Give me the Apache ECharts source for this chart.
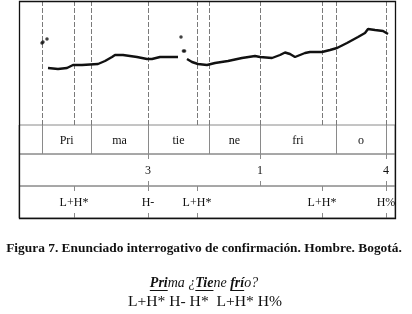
<!DOCTYPE html>
<html>
<head>
<meta charset="utf-8">
<script src="https://cdn.jsdelivr.net/npm/echarts@6/dist/echarts.min.js"></script>
<style>
html,body{margin:0;padding:0;background:#fff;}
#chart{width:412px;height:314px;}
</style>
</head>
<body>
<div id="chart"></div>
<script>
// F0 track: [time ms, Hz]
var pitchTrack1 = [[145,117],[195,116],[240,117],[270,120],[315,120],[395,121],[430,124],[465,128],[480,130],[520,130],[590,128],[640,126],[665,126],[705,128],[795,128]];
var pitchTrack2 = [[840,126],[865,123],[895,121],[940,120],[980,122],[1045,124],[1115,127],[1180,129],[1205,128],[1265,127],[1305,130],[1330,132.5],[1355,131],[1380,128],[1405,130],[1430,132],[1455,133],[1515,133],[1555,135],[1590,137],[1640,142],[1695,148],[1730,152],[1745,156],[1780,155],[1820,154],[1845,151]];
var pitchStray = [[115,142],[120,143],[140,146],[810,148],[822,134],[828,134]];

// tiers
var syllables = ['Pri','ma','tie','ne','fri','o'];
var syllableBounds = [117,360,645,950,1205,1585,1835];
var breakIndices = ['3','1','4'];
var breakTimes = [645,1205,1835];
var tones = ['L+H*','H-','L+H*','L+H*','H%'];
var toneTimes = [275,645,890,1515,1835];

var tMax = 1880;
var FONT = '"Liberation Serif", "DejaVu Serif", serif';

var dashTimes = syllableBounds.concat(toneTimes).filter(function(v,i,a){return a.indexOf(v)===i;}).sort(function(a,b){return a-b;});

var myChart = echarts.init(document.getElementById('chart'));

function txt(x, y, s, font) {
  return {type:'text', style:{text:s, x:x, y:y, font:font, fill:'#111',
    align:'center', verticalAlign:'middle', textAlign:'center', textVerticalAlign:'middle'}};
}

// vertical lines over full pitch panel
function renderDash(params, api) {
  var t = api.value(0);
  var p1 = api.coord([t, 184]), p2 = api.coord([t, 60]);
  return {type:'line', shape:{x1:Math.round(p1[0])+0.5, y1:p1[1], x2:Math.round(p2[0])+0.5, y2:p2[1]},
    style:{stroke:'#7a7a7a', lineWidth:1, lineDash:[5,2]}};
}
// full solid line inside a tier
function renderSolid(params, api) {
  var t = api.value(0);
  var p1 = api.coord([t, 1]), p2 = api.coord([t, 0]);
  return {type:'line', shape:{x1:Math.round(p1[0])+0.5, y1:p1[1], x2:Math.round(p2[0])+0.5, y2:p2[1]},
    style:{stroke:'#8a8a8a', lineWidth:1}};
}
// tier label, text looked up by index
function labelRenderer(texts) {
  return function(params, api) {
    var p = api.coord([api.value(0), 0.5]);
    return txt(p[0], p[1]+1, texts[params.dataIndex], '12px ' + FONT);
  };
}
// short ticks top and bottom
function renderTick(params, api) {
  var t = api.value(0);
  var top = api.coord([t, 1]), bot = api.coord([t, 0]);
  var x = Math.round(top[0]) + 0.5;
  return {type:'group', children:[
    {type:'line', shape:{x1:x, y1:top[1], x2:x, y2:top[1]+5}, style:{stroke:'#8a8a8a', lineWidth:1}},
    {type:'line', shape:{x1:x, y1:bot[1]-5, x2:x, y2:bot[1]}, style:{stroke:'#8a8a8a', lineWidth:1}}
  ]};
}

var sylMid = [];
for (var i = 0; i < syllables.length; i++) {
  sylMid.push([(syllableBounds[i] + syllableBounds[i+1]) / 2]);
}

// caption pieces
var ctx = document.createElement('canvas').getContext('2d');
var graphics = [];
graphics.push({type:'rect', shape:{x:19.5, y:1.5, width:376, height:217}, style:{fill:'none', stroke:'#111', lineWidth:1.3}, z:100});
graphics.push(txt(204, 249, 'Figura 7. Enunciado interrogativo de confirmación. Hombre. Bogotá.', 'bold 13.4px ' + FONT));
var parts = [['Pri',1],['ma ¿',0],['Tie',1],['ne ',0],['frí',1],['o?',0]];
var widths = [], total = 0;
parts.forEach(function(p){
  ctx.font = (p[1] ? 'italic bold ' : 'italic ') + '14px ' + FONT;
  var w = ctx.measureText(p[0]).width; widths.push(w); total += w;
});
var x0 = 204 - total / 2;
parts.forEach(function(p, k){
  var f = (p[1] ? 'italic bold ' : 'italic ') + '14px ' + FONT;
  graphics.push({type:'text', style:{text:p[0], x:x0, y:283, font:f, fill:'#111',
    align:'left', verticalAlign:'middle', textAlign:'left', textVerticalAlign:'middle'}});
  if (p[1]) graphics.push({type:'line', shape:{x1:x0, y1:290.5, x2:x0+widths[k], y2:290.5}, style:{stroke:'#111', lineWidth:1}});
  x0 += widths[k];
});
graphics.push(txt(205, 302, 'L+H* H- H*  L+H* H%', '15.6px ' + FONT));

var grids = [[1,124],[125,29],[154,32],[186,32]];
var option = {
  animation: false,
  grid: grids.map(function(g, i){
    return {left:19, top:g[0], width:376, height:g[1], show:i>0, borderColor:'#8a8a8a', borderWidth:1, backgroundColor:'transparent'};
  }),
  xAxis: grids.map(function(g, i){ return {type:'value', gridIndex:i, min:0, max:tMax, show:false}; }),
  yAxis: grids.map(function(g, i){ return i === 0 ? {type:'value', gridIndex:0, min:60, max:184, show:false} : {type:'value', gridIndex:i, min:0, max:1, show:false}; }),
  series: [
    {type:'custom', xAxisIndex:0, yAxisIndex:0, data:dashTimes.map(function(t){return [t];}), renderItem:renderDash},
    {type:'line', xAxisIndex:0, yAxisIndex:0, data:pitchTrack1, symbol:'none', lineStyle:{color:'#111', width:2.4}},
    {type:'line', xAxisIndex:0, yAxisIndex:0, data:pitchTrack2, symbol:'none', lineStyle:{color:'#111', width:2.4}},
    {type:'scatter', xAxisIndex:0, yAxisIndex:0, data:pitchStray, symbolSize:3.5, itemStyle:{color:'#111'}},
    {type:'custom', xAxisIndex:1, yAxisIndex:1, data:syllableBounds.map(function(t){return [t];}), renderItem:renderSolid},
    {type:'custom', xAxisIndex:1, yAxisIndex:1, data:sylMid, renderItem:labelRenderer(syllables)},
    {type:'custom', xAxisIndex:2, yAxisIndex:2, data:breakTimes.map(function(t){return [t];}), renderItem:renderTick},
    {type:'custom', xAxisIndex:2, yAxisIndex:2, data:breakTimes.map(function(t){return [t];}), renderItem:labelRenderer(breakIndices)},
    {type:'custom', xAxisIndex:3, yAxisIndex:3, data:toneTimes.map(function(t){return [t];}), renderItem:renderTick},
    {type:'custom', xAxisIndex:3, yAxisIndex:3, data:toneTimes.map(function(t){return [t];}), renderItem:labelRenderer(tones)}
  ],
  graphic: graphics
};
myChart.setOption(option);
</script>
</body>
</html>
